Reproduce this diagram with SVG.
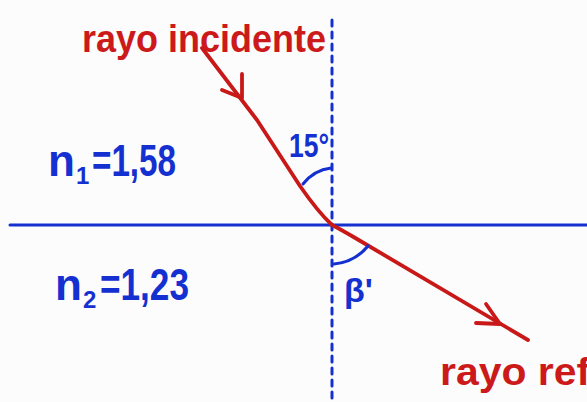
<svg xmlns="http://www.w3.org/2000/svg" width="587" height="402" viewBox="0 0 587 402">
<style>
.red{fill:#cc1a1a;font-family:"Liberation Sans",sans-serif;font-weight:bold}
.blue{fill:#1530d0;font-family:"Liberation Sans",sans-serif;font-weight:bold}
.rl{stroke:#c81818;stroke-width:3.8;fill:none;stroke-linecap:round;stroke-linejoin:round}
.bl{stroke:#1530d0;stroke-width:3;fill:none;stroke-linecap:round}
</style>
<rect width="587" height="402" fill="#fcfcfc"/>
<g id="axes">
<line class="bl" x1="10" y1="225" x2="587" y2="225"/>
<line class="bl" x1="332" y1="20" x2="332" y2="402" stroke-dasharray="6,6"/>
</g>
<g id="connectors">
<path class="rl" d="M202,48 L257,120 L300,186 Q318,212 332,225"/>
<path class="rl" d="M222,90 L242,98 L242,74"/>
<path class="rl" d="M332,225 Q340,229 357,239 L528,340"/>
<path class="rl" d="M476,323 L500,324 L486,304"/>
<path class="bl" d="M303,184 Q314,170 331,168"/>
<path class="bl" d="M334,264 Q355,262 368,246"/>
</g>
<g id="labels">
<text class="red" x="82" y="52" font-size="38" textLength="244" lengthAdjust="spacingAndGlyphs">rayo incidente</text>
<text class="red" x="440" y="385" font-size="38" textLength="150" lengthAdjust="spacingAndGlyphs">rayo ref</text>
<text class="blue" x="48" y="176" font-size="44">n</text>
<text class="blue" x="76" y="184" font-size="24">1</text>
<text class="blue" x="92" y="176" font-size="44" textLength="84" lengthAdjust="spacingAndGlyphs">=1,58</text>
<text class="blue" x="55" y="300" font-size="44">n</text>
<text class="blue" x="83" y="308" font-size="24">2</text>
<text class="blue" x="100" y="300" font-size="44" textLength="89" lengthAdjust="spacingAndGlyphs">=1,23</text>
<text class="blue" x="289" y="157" font-size="34" textLength="40" lengthAdjust="spacingAndGlyphs">15°</text>
<text class="blue" x="344" y="302" font-size="34">β'</text>
</g>
</svg>
